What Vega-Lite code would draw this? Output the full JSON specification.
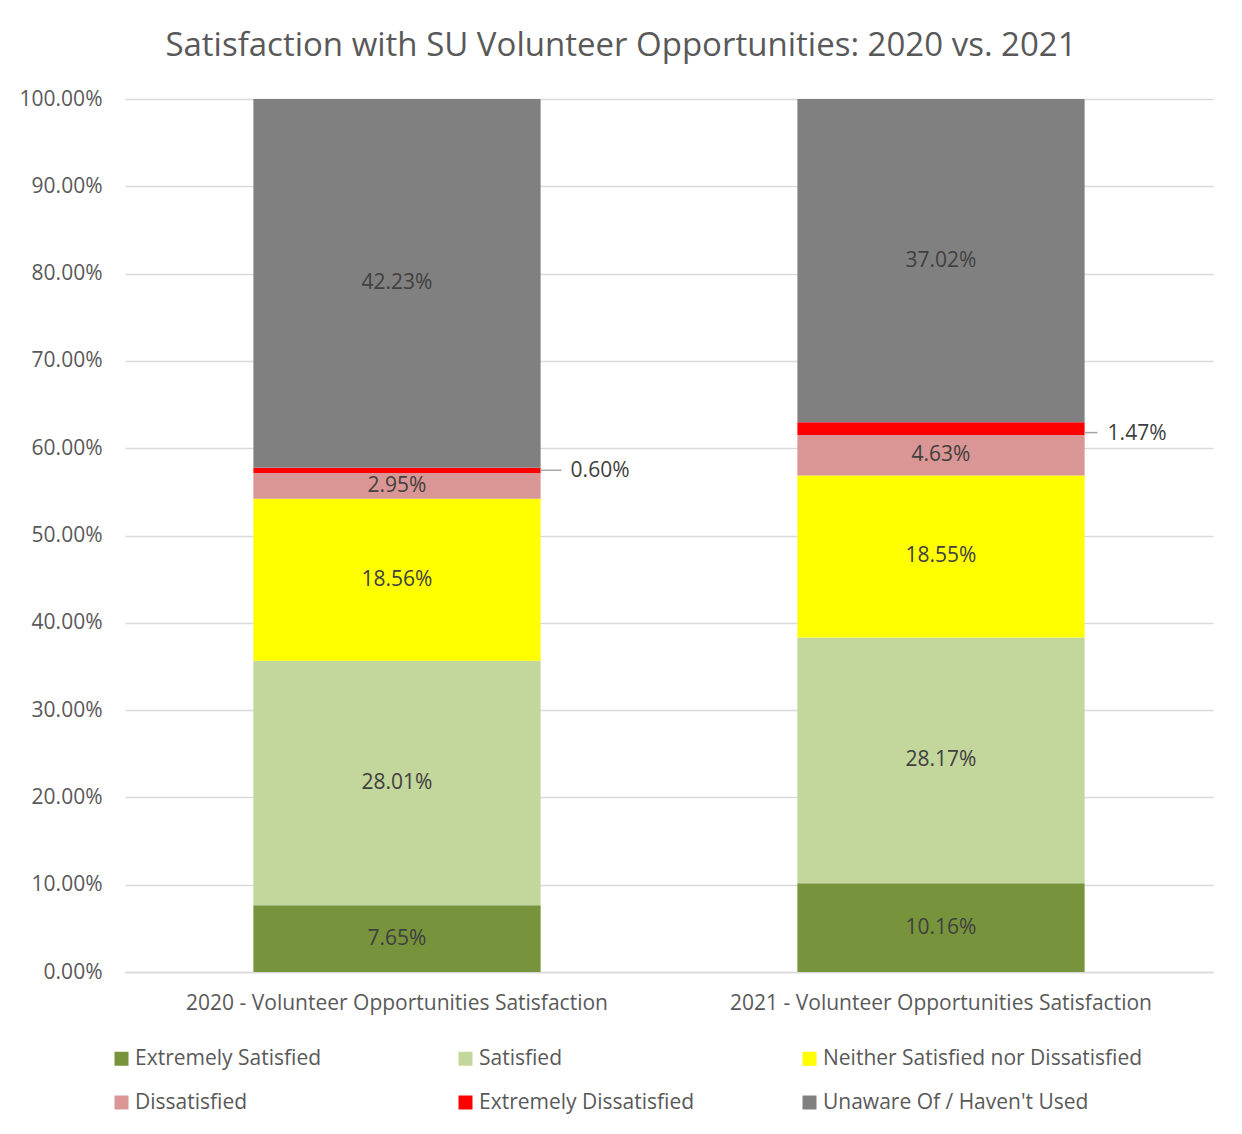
{
  "$schema": "https://vega.github.io/schema/vega-lite/v6.json",
  "width": 1088,
  "height": 873,
  "autosize": {"type": "pad"},
  "padding": {"left": 19, "top": 30, "right": 29, "bottom": 10},
  "background": "white",
  "title": {
    "text": "Satisfaction with SU Volunteer Opportunities: 2020 vs. 2021",
    "font": "Open Sans",
    "fontSize": 33,
    "fontWeight": "normal",
    "color": "#595959",
    "offset": 25,
    "dx": -48
  },
  "config": {
    "view": {"stroke": null},
    "font": "Open Sans"
  },
  "data": {
    "values": [
      {"year": "2020 - Volunteer Opportunities Satisfaction", "category": "Extremely Satisfied", "rank": 1, "value": 0.0765},
      {"year": "2020 - Volunteer Opportunities Satisfaction", "category": "Satisfied", "rank": 2, "value": 0.2801},
      {"year": "2020 - Volunteer Opportunities Satisfaction", "category": "Neither Satisfied nor Dissatisfied", "rank": 3, "value": 0.1856},
      {"year": "2020 - Volunteer Opportunities Satisfaction", "category": "Dissatisfied", "rank": 4, "value": 0.0295},
      {"year": "2020 - Volunteer Opportunities Satisfaction", "category": "Extremely Dissatisfied", "rank": 5, "value": 0.006},
      {"year": "2020 - Volunteer Opportunities Satisfaction", "category": "Unaware Of / Haven't Used", "rank": 6, "value": 0.4223},
      {"year": "2021 - Volunteer Opportunities Satisfaction", "category": "Extremely Satisfied", "rank": 1, "value": 0.1016},
      {"year": "2021 - Volunteer Opportunities Satisfaction", "category": "Satisfied", "rank": 2, "value": 0.2817},
      {"year": "2021 - Volunteer Opportunities Satisfaction", "category": "Neither Satisfied nor Dissatisfied", "rank": 3, "value": 0.1855},
      {"year": "2021 - Volunteer Opportunities Satisfaction", "category": "Dissatisfied", "rank": 4, "value": 0.0463},
      {"year": "2021 - Volunteer Opportunities Satisfaction", "category": "Extremely Dissatisfied", "rank": 5, "value": 0.0147},
      {"year": "2021 - Volunteer Opportunities Satisfaction", "category": "Unaware Of / Haven't Used", "rank": 6, "value": 0.3702}
    ]
  },
  "encoding": {
    "x": {
      "field": "year",
      "type": "nominal",
      "scale": {"paddingInner": 0.472, "paddingOuter": 0.236},
      "axis": {
        "title": null,
        "labelAngle": 0,
        "ticks": false,
        "domain": true,
        "domainColor": "#d9d9d9",
        "domainWidth": 1.5,
        "labelPadding": 20,
        "labelFontSize": 21,
        "labelColor": "#595959",
        "labelLimit": 0
      }
    }
  },
  "layer": [
    {
      "mark": {"type": "bar"},
      "encoding": {
        "y": {
          "field": "value",
          "type": "quantitative",
          "stack": "zero",
          "scale": {"domain": [0, 1]},
          "axis": {
            "title": null,
            "format": ".2%",
            "values": [0, 0.1, 0.2, 0.3, 0.4, 0.5, 0.6, 0.7, 0.8, 0.9, 1],
            "domain": false,
            "ticks": false,
            "labelPadding": 23,
            "labelFontSize": 21,
            "labelColor": "#595959",
            "gridColor": "#d9d9d9",
            "gridWidth": 1.5
          }
        },
        "order": {"field": "rank", "type": "quantitative"},
        "color": {
          "field": "category",
          "type": "nominal",
          "sort": ["Extremely Satisfied", "Satisfied", "Neither Satisfied nor Dissatisfied", "Dissatisfied", "Extremely Dissatisfied", "Unaware Of / Haven't Used"],
          "scale": {
            "domain": ["Extremely Satisfied", "Satisfied", "Neither Satisfied nor Dissatisfied", "Dissatisfied", "Extremely Dissatisfied", "Unaware Of / Haven't Used"],
            "range": ["#77933c", "#c3d69b", "#ffff00", "#d99694", "#ff0000", "#808080"]
          },
          "legend": {
            "title": null,
            "orient": "none",
            "legendX": -14,
            "legendY": 949,
            "direction": "horizontal",
            "columns": 3,
            "gridAlign": "all",
            "columnPadding": 0,
            "rowPadding": 22,
            "symbolType": "square",
            "symbolSize": 196,
            "symbolStrokeWidth": 0,
            "symbolOpacity": 1,
            "labelOffset": 3,
            "labelFontSize": 21,
            "labelColor": "#595959",
            "labelLimit": 0
          }
        }
      }
    },
    {
      "mark": {"type": "tick", "orient": "horizontal", "size": 21, "thickness": 1.5, "color": "#a6a6a6", "xOffset": 154},
      "encoding": {
        "y": {"field": "value", "type": "quantitative", "stack": "zero", "bandPosition": 0.5},
        "order": {"field": "rank", "type": "quantitative"},
        "opacity": {"condition": {"test": "datum.category === 'Extremely Dissatisfied' && datum.year[3] === '0'", "value": 1}, "value": 0}
      }
    },
    {
      "mark": {"type": "tick", "orient": "horizontal", "size": 13, "thickness": 1.5, "color": "#a6a6a6", "xOffset": 150, "yOffset": 4},
      "encoding": {
        "y": {"field": "value", "type": "quantitative", "stack": "zero", "bandPosition": 0.5},
        "order": {"field": "rank", "type": "quantitative"},
        "opacity": {"condition": {"test": "datum.category === 'Extremely Dissatisfied' && datum.year[3] === '1'", "value": 1}, "value": 0}
      }
    },
    {
      "mark": {"type": "text", "fontSize": 21, "color": "#404040"},
      "encoding": {
        "y": {"field": "value", "type": "quantitative", "stack": "zero", "bandPosition": 0.5},
        "order": {"field": "rank", "type": "quantitative"},
        "text": {"condition": {"test": "datum.category === 'Extremely Dissatisfied'", "value": ""}, "field": "value", "type": "quantitative", "format": ".2%"}
      }
    },
    {
      "mark": {"type": "text", "fontSize": 21, "color": "#404040", "align": "left", "dx": 30, "dy": 1},
      "encoding": {
        "x": {"field": "year", "type": "nominal", "bandPosition": 1},
        "y": {"field": "value", "type": "quantitative", "stack": "zero", "bandPosition": 0.5},
        "order": {"field": "rank", "type": "quantitative"},
        "text": {"condition": {"test": "datum.category === 'Extremely Dissatisfied' && datum.year[3] === '0'", "field": "value", "type": "quantitative", "format": ".2%"}, "value": ""}
      }
    },
    {
      "mark": {"type": "text", "fontSize": 21, "color": "#404040", "align": "left", "dx": 23, "dy": 5},
      "encoding": {
        "x": {"field": "year", "type": "nominal", "bandPosition": 1},
        "y": {"field": "value", "type": "quantitative", "stack": "zero", "bandPosition": 0.5},
        "order": {"field": "rank", "type": "quantitative"},
        "text": {"condition": {"test": "datum.category === 'Extremely Dissatisfied' && datum.year[3] === '1'", "field": "value", "type": "quantitative", "format": ".2%"}, "value": ""}
      }
    }
  ]
}
